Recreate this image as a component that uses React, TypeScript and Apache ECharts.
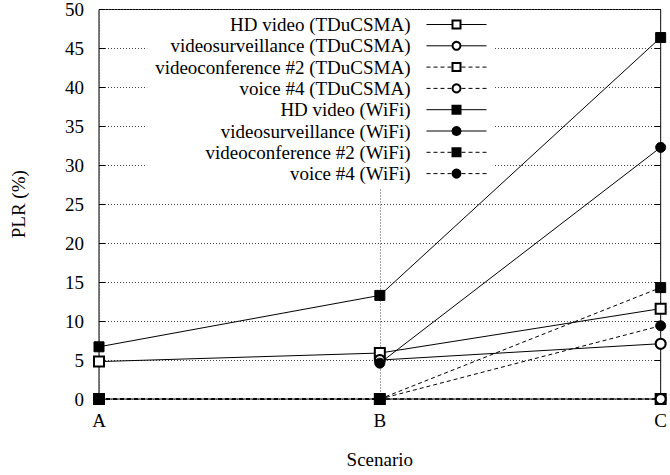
import React, { useEffect, useRef } from "react";
import * as echarts from "echarts";

const categories = ["A", "B", "C"];
const yTicks = { min: 0, max: 50, interval: 5 };

const hdTDuCSMA = [4.8, 5.9, 11.6];
const vsTDuCSMA = [null, 5.0, 7.1];
const vcTDuCSMA = [0, 0, 0];
const voiceTDuCSMA = [0, 0, 0];
const hdWiFi = [6.7, 13.3, 46.4];
const vsWiFi = [null, 4.6, 32.3];
const vcWiFi = [0, 0, 14.3];
const voiceWiFi = [0, 0, 9.4];

const seriesDefs = [
  { name: "HD video (TDuCSMA)", data: hdTDuCSMA, symbol: "emptyRect", dashed: false },
  { name: "videosurveillance (TDuCSMA)", data: vsTDuCSMA, symbol: "emptyCircle", dashed: false },
  { name: "videoconference #2 (TDuCSMA)", data: vcTDuCSMA, symbol: "emptyRect", dashed: true },
  { name: "voice #4 (TDuCSMA)", data: voiceTDuCSMA, symbol: "emptyCircle", dashed: true },
  { name: "HD video (WiFi)", data: hdWiFi, symbol: "rect", dashed: false },
  { name: "videosurveillance (WiFi)", data: vsWiFi, symbol: "circle", dashed: false },
  { name: "videoconference #2 (WiFi)", data: vcWiFi, symbol: "rect", dashed: true },
  { name: "voice #4 (WiFi)", data: voiceWiFi, symbol: "circle", dashed: true },
];

const FONT = "'Liberation Serif', 'Times New Roman', serif";

export default function App() {
  const ref = useRef<HTMLDivElement>(null);
  useEffect(() => {
    if (!ref.current) return;
    const chart = echarts.init(ref.current, null, { renderer: "svg" });
    const dotted = { color: "#444", width: 1, type: [1, 2] as any };
    chart.setOption({
      animation: false,
      backgroundColor: "#fff",
      textStyle: { fontFamily: FONT, color: "#000" },
      grid: {
        left: 99,
        right: 6,
        top: 8,
        bottom: 76,
        show: true,
        borderColor: "#000",
        borderWidth: 1,
        backgroundColor: "transparent",
      },
      legend: {
        orient: "vertical",
        align: "right",
        right: 175,
        top: 10,
        padding: [5, 8, 6, 8],
        backgroundColor: "#fff",
        itemWidth: 60,
        itemHeight: 10,
        itemGap: 2.3,
        selectedMode: false,
        lineStyle: { width: 1 },
        textStyle: {
          fontFamily: FONT,
          fontSize: 19,
          lineHeight: 19,
          color: "#000",
          padding: [0, 11, 0, 0],
        },
        data: seriesDefs.map((s) => s.name),
      },
      xAxis: [
        {
          type: "category",
          data: categories,
          boundaryGap: false,
          name: "Scenario",
          nameLocation: "middle",
          nameGap: 51,
          nameTextStyle: { fontFamily: FONT, fontSize: 19, color: "#000" },
          axisLine: { show: false },
          axisTick: { show: true, inside: true, length: 6, lineStyle: { color: "#000" } },
          axisLabel: { fontFamily: FONT, fontSize: 19, color: "#000", margin: 12 },
          splitLine: { show: true, lineStyle: dotted },
        },
        {
          type: "category",
          data: categories,
          boundaryGap: false,
          position: "top",
          axisLine: { show: false },
          axisTick: { show: true, inside: true, length: 6, lineStyle: { color: "#000" } },
          axisLabel: { show: false },
          splitLine: { show: false },
        },
      ],
      yAxis: [
        {
          type: "value",
          min: yTicks.min,
          max: yTicks.max,
          interval: yTicks.interval,
          name: "PLR (%)",
          nameLocation: "middle",
          nameGap: 71,
          nameTextStyle: { fontFamily: FONT, fontSize: 19, color: "#000" },
          axisLine: { show: false },
          axisTick: { show: true, inside: true, length: 6, lineStyle: { color: "#000" } },
          axisLabel: { fontFamily: FONT, fontSize: 19, color: "#000", margin: 15 },
          splitLine: { show: true, lineStyle: dotted },
        },
        {
          type: "value",
          min: yTicks.min,
          max: yTicks.max,
          interval: yTicks.interval,
          position: "right",
          axisLine: { show: false },
          axisTick: { show: true, inside: true, length: 6, lineStyle: { color: "#000" } },
          axisLabel: { show: false },
          splitLine: { show: false },
        },
      ],
      series: seriesDefs.map((s) => ({
        name: s.name,
        type: "line",
        data: s.data,
        xAxisIndex: 0,
        yAxisIndex: 0,
        symbol: s.symbol,
        symbolSize: 10,
        showAllSymbol: true,
        clip: false,
        itemStyle: { color: "#000", borderColor: "#000", borderWidth: 1 },
        lineStyle: { color: "#000", width: 1, type: s.dashed ? [4, 3] : "solid" },
        emphasis: { disabled: true },
      })),
    });
    return () => chart.dispose();
  }, []);
  return (
    <div
      ref={ref}
      style={{ position: "fixed", left: 0, top: 0, width: 670, height: 475 }}
    />
  );
}
